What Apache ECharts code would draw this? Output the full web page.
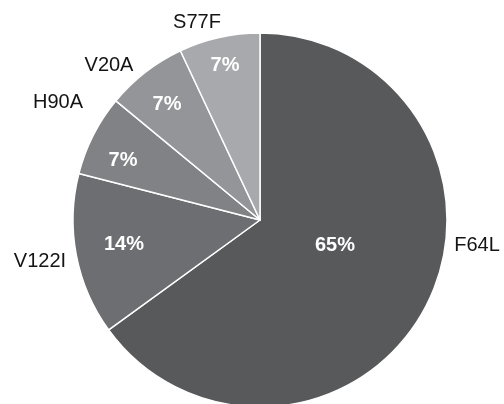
<!DOCTYPE html>
<html>
<head>
<meta charset="utf-8">
<script src="https://cdn.jsdelivr.net/npm/echarts@6/dist/echarts.min.js"></script>
<style>html,body{margin:0;padding:0;background:#fff}#c{width:504px;height:404px}</style>
</head>
<body>
<div id="c"></div>
<script>
const categories = ['F64L', 'V122I', 'H90A', 'V20A', 'S77F'];
const values = [65, 14, 7, 7, 7];
const colors = ['#58595b', '#6d6e71', '#808285', '#939598', '#a7a9ac'];
const innerLabelPos = [[335, 245], [124, 244], [123, 160], [167, 104], [225, 65]];
const outerLabelPos = [[477, 245], [40, 261], [58, 102], [109, 65], [197, 22]];

const data = categories.map((c, i) => ({ name: c, value: values[i], itemStyle: { color: colors[i] } }));
const chart = echarts.init(document.getElementById('c'));
const base = {
  type: 'pie',
  center: [260, 220],
  radius: 187,
  startAngle: 90,
  clockwise: true,
  animation: false,
  silent: true,
  avoidLabelOverlap: false
};
chart.setOption({
  backgroundColor: '#ffffff',
  series: [
    Object.assign({}, base, {
      data: data,
      itemStyle: { borderColor: '#ffffff', borderWidth: 1.5 },
      label: {
        show: true, position: 'inside', color: '#ffffff', fontWeight: 'bold',
        fontSize: 20, fontFamily: 'Liberation Sans, Arial, sans-serif',
        formatter: p => p.value + '%'
      },
      labelLine: { show: false },
      labelLayout: p => ({ x: innerLabelPos[p.dataIndex][0], y: innerLabelPos[p.dataIndex][1], align: 'center', verticalAlign: 'middle' })
    }),
    Object.assign({}, base, {
      data: categories.map((c, i) => ({ name: c, value: values[i] })),
      itemStyle: { color: 'rgba(0,0,0,0)', borderWidth: 0 },
      label: {
        show: true, position: 'outside', color: '#141414',
        fontSize: 20, fontFamily: 'Liberation Sans, Arial, sans-serif',
        formatter: p => p.name
      },
      labelLine: { show: false },
      labelLayout: p => ({ x: outerLabelPos[p.dataIndex][0], y: outerLabelPos[p.dataIndex][1], align: 'center', verticalAlign: 'middle' })
    })
  ]
});
</script>
</body>
</html>
